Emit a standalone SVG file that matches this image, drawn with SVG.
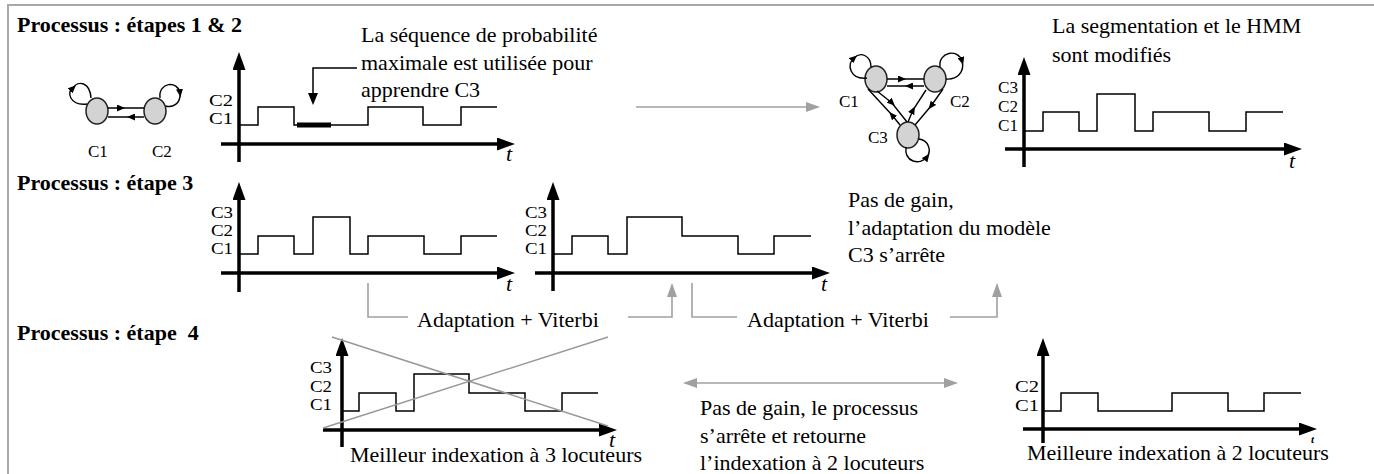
<svg xmlns="http://www.w3.org/2000/svg" width="1374" height="474" viewBox="0 0 1374 474">
<style>
text{font-family:"Liberation Serif","Times New Roman",serif;fill:#000}
.ttl{font-size:22px;font-weight:bold}
.txt{font-size:22px}
.lbl{font-size:16px}
.hl{font-size:17px}
.t{font-size:22px;font-style:italic}
.ax{stroke:#000;stroke-width:3.5;fill:none;marker-end:url(#axh)}
.sig{stroke:#000;stroke-width:1.5;fill:none}
.st{fill:#d3d3d3;stroke:#222;stroke-width:1.5}
.tr{stroke:#000;stroke-width:1.4;fill:none;marker-mid:url(#sm)}
.gc{stroke:#a0a0a0;stroke-width:1.6;fill:none}
.frame{stroke:#a8a8a8;stroke-width:2;fill:none}
</style>
<defs>
<marker id="axh" markerUnits="userSpaceOnUse" markerWidth="18" markerHeight="13" refX="8" refY="6.5" orient="auto"><path d="M0,0 L18,6.5 L0,13 z" fill="#000"/></marker>
<marker id="sm" markerUnits="userSpaceOnUse" markerWidth="8" markerHeight="7" refX="4" refY="3.5" orient="auto"><path d="M0,0 L8,3.5 L0,7 z" fill="#000"/></marker>
<marker id="ga" markerUnits="userSpaceOnUse" markerWidth="14" markerHeight="10" refX="12" refY="5" orient="auto-start-reverse"><path d="M0,0 L14,5 L0,10 z" fill="#a0a0a0"/></marker>
<marker id="ba" markerUnits="userSpaceOnUse" markerWidth="12" markerHeight="10" refX="10" refY="5" orient="auto"><path d="M0,0 L12,5 L0,10 z" fill="#000"/></marker>
</defs>
<rect width="1374" height="474" fill="#fff"/>
<path class="frame" d="M8,474 V5 H1374"/>

<g id="titles">
<text class="ttl" x="17" y="32">Processus : étapes 1 &amp; 2</text>
<text class="ttl" x="17" y="190">Processus : étape 3</text>
<text class="ttl" x="17" y="340" xml:space="preserve">Processus : étape  4</text>
</g>

<g id="hmm2">
<ellipse class="st" cx="97" cy="111" rx="11" ry="13"/>
<ellipse class="st" cx="155" cy="111" rx="11" ry="13"/>
<path class="tr" d="M108,108 L121,108 L144,108"/>
<path class="tr" d="M144,117 L131,117 L108,117"/>
<path class="tr" d="M87,104 C70,106 66,92 73,88 C78,80 90,82 91,98"/>
<path class="tr" d="M160,98 C158,82 178,80 180,93 C181,104 172,108 166,106"/>
<text class="hl" x="88" y="157">C1</text>
<text class="hl" x="152" y="157">C2</text>
</g>

<g id="chartA">
<path class="ax" d="M239,162 V62"/>
<path class="ax" d="M221,144 H505"/>
<text class="lbl" x="233" y="106" text-anchor="end" textLength="24" lengthAdjust="spacingAndGlyphs">C2</text>
<text class="lbl" x="233" y="124" text-anchor="end" textLength="24" lengthAdjust="spacingAndGlyphs">C1</text>
<path class="sig" d="M239,125 H258 V107 H294 V125 H368 V107 H423 V125 H461 V107 H497"/>
<path d="M297,125 H331" stroke="#000" stroke-width="5"/>
<text class="t" x="506" y="161">t</text>
</g>

<g id="noteA">
<text class="txt" x="361" y="42">La séquence de probabilité</text>
<text class="txt" x="361" y="70">maximale est utilisée pour</text>
<text class="txt" x="361" y="97">apprendre C3</text>
<path d="M357,68 H313 V103" stroke="#000" stroke-width="1.5" fill="none" marker-end="url(#ba)"/>
</g>

<g id="hmm3">
<ellipse class="st" cx="876" cy="79" rx="11" ry="13"/>
<ellipse class="st" cx="935" cy="79" rx="11" ry="13"/>
<ellipse class="st" cx="908" cy="135" rx="11" ry="13"/>
<path class="tr" d="M887,79 L902,79 L924,79"/>
<path class="tr" d="M924,86 L909,86 L887,86"/>
<path class="tr" d="M877,91 L892,103 L907,122"/>
<path class="tr" d="M900,125 L892,115 L868,89"/>
<path class="tr" d="M908,122 L913,110 L926,90"/>
<path class="tr" d="M943,89 L931,106 L915,125"/>
<path class="tr" d="M867,78 C850,80 846,64 854,58 C861,51 871,56 871,67"/>
<path class="tr" d="M940,67 C938,52 958,48 962,61 C965,72 957,80 946,79"/>
<path class="tr" d="M906,147 C904,162 920,166 927,157 C932,150 928,140 919,139"/>
<text class="hl" x="839" y="107">C1</text>
<text class="hl" x="950" y="107">C2</text>
<text class="hl" x="868" y="143">C3</text>
</g>

<g id="chartB">
<path class="ax" d="M1024,167 V67"/>
<path class="ax" d="M1005,149 H1292"/>
<text class="lbl" x="1018" y="93" text-anchor="end" textLength="20" lengthAdjust="spacingAndGlyphs">C3</text>
<text class="lbl" x="1018" y="112" text-anchor="end" textLength="20" lengthAdjust="spacingAndGlyphs">C2</text>
<text class="lbl" x="1018" y="131" text-anchor="end" textLength="20" lengthAdjust="spacingAndGlyphs">C1</text>
<path class="sig" d="M1024,131 H1043 V112 H1079 V131 H1097 V94 H1135 V131 H1153 V112 H1209 V131 H1246 V112 H1283"/>
<text class="t" x="1289" y="168">t</text>
</g>

<g id="noteB">
<text class="txt" x="1052" y="33">La segmentation et le HMM</text>
<text class="txt" x="1052" y="62">sont modifiés</text>
</g>

<g id="chartC">
<path class="ax" d="M239,292 V192"/>
<path class="ax" d="M221,273 H505"/>
<text class="lbl" x="233" y="218" text-anchor="end" textLength="22" lengthAdjust="spacingAndGlyphs">C3</text>
<text class="lbl" x="233" y="236" text-anchor="end" textLength="22" lengthAdjust="spacingAndGlyphs">C2</text>
<text class="lbl" x="233" y="254" text-anchor="end" textLength="22" lengthAdjust="spacingAndGlyphs">C1</text>
<path class="sig" d="M239,254 H258 V236 H294 V254 H313 V217 H350 V254 H368 V236 H424 V254 H461 V236 H497"/>
<text class="t" x="506" y="291">t</text>
</g>

<g id="chartD">
<path class="ax" d="M553,291 V192"/>
<path class="ax" d="M535,273 H820"/>
<text class="lbl" x="547" y="218" text-anchor="end" textLength="22" lengthAdjust="spacingAndGlyphs">C3</text>
<text class="lbl" x="547" y="236" text-anchor="end" textLength="22" lengthAdjust="spacingAndGlyphs">C2</text>
<text class="lbl" x="547" y="254" text-anchor="end" textLength="22" lengthAdjust="spacingAndGlyphs">C1</text>
<path class="sig" d="M553,254 H572 V236 H608 V254 H627 V217 H682 V236 H738 V254 H774 V236 H811"/>
<text class="t" x="821" y="291">t</text>
</g>

<g id="noteC">
<text class="txt" x="848" y="207">Pas de gain,</text>
<text class="txt" x="848" y="235">l’adaptation du modèle</text>
<text class="txt" x="848" y="262">C3 s’arrête</text>
</g>

<g id="adapt1">
<text class="txt" x="417" y="327">Adaptation + Viterbi</text>
</g>
<g id="adapt2">
<text class="txt" x="747" y="327">Adaptation + Viterbi</text>
</g>

<g id="chartE">
<path class="ax" d="M342,447 V348"/>
<path class="ax" d="M323,430 H607"/>
<text class="lbl" x="332" y="373" text-anchor="end" textLength="22" lengthAdjust="spacingAndGlyphs">C3</text>
<text class="lbl" x="332" y="392" text-anchor="end" textLength="22" lengthAdjust="spacingAndGlyphs">C2</text>
<text class="lbl" x="332" y="410" text-anchor="end" textLength="22" lengthAdjust="spacingAndGlyphs">C1</text>
<path class="sig" d="M342,411 H359 V393 H396 V411 H414 V374 H469 V393 H525 V411 H562 V393 H598"/>
<text class="t" x="609" y="447">t</text>
<path d="M332,337 L608,426 M323,428 L608,337" stroke="#999" stroke-width="1.5" fill="none"/>
<text class="txt" x="350" y="462">Meilleur indexation à 3 locuteurs</text>
</g>

<g id="noteD">
<text class="txt" x="700" y="415">Pas de gain, le processus</text>
<text class="txt" x="700" y="443">s’arrête et retourne</text>
<text class="txt" x="700" y="470">l’indexation à 2 locuteurs</text>
</g>

<g id="chartF">
<path class="ax" d="M1043,443 V348"/>
<path class="ax" d="M1023,429 H1307"/>
<text class="lbl" x="1039" y="392" text-anchor="end" textLength="24" lengthAdjust="spacingAndGlyphs">C2</text>
<text class="lbl" x="1039" y="411" text-anchor="end" textLength="24" lengthAdjust="spacingAndGlyphs">C1</text>
<path class="sig" d="M1043,411 H1061 V393 H1098 V411 H1172 V393 H1228 V411 H1264 V393 H1301"/>
<text x="1311" y="443" font-size="11" font-style="italic" font-weight="bold">t</text>
<text class="txt" x="1027" y="460">Meilleure indexation à 2 locuteurs</text>
</g>

<g id="connectors">
<path class="gc" d="M636,107 H818" marker-end="url(#ga)"/>
<path class="gc" d="M368,283 V317 H408"/>
<path class="gc" d="M628,317 H672 V285" marker-end="url(#ga)"/>
<path class="gc" d="M692,283 V317 H737"/>
<path class="gc" d="M950,317 H997 V285" marker-end="url(#ga)"/>
<path class="gc" d="M685,383 H956" marker-start="url(#ga)" marker-end="url(#ga)"/>
</g>
</svg>
